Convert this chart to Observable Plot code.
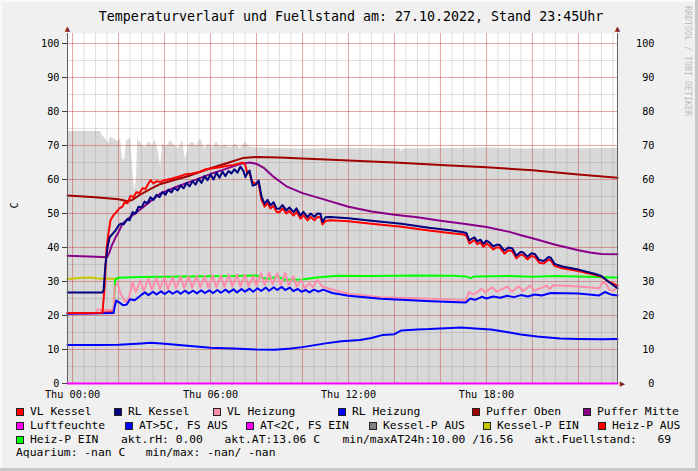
<!DOCTYPE html>
<html><head><meta charset="utf-8">
<script src="https://cdn.jsdelivr.net/npm/d3@7"></script>
<script src="https://cdn.jsdelivr.net/npm/@observablehq/plot@0.6"></script>
<style>
html,body{margin:0;padding:0;background:#f0f0f0;}
#wrap{position:relative;width:698px;height:471px;background:#f0f0f0;overflow:hidden;font-family:"DejaVu Sans Mono",monospace;color:#000;box-shadow:inset -3px -3px 0 #c8c8c8, inset 2px 2px 0 #fafafa;}
#chart{position:absolute;left:0;top:0;}
.t{position:absolute;white-space:pre;line-height:1;}
#title{left:2px;width:698px;top:10.3px;text-align:center;font-size:13.3px;}
#credit{left:684px;top:6px;font-size:8.3px;color:#bdbdbd;writing-mode:vertical-rl;}
.lg{font-size:11.35px;}
.sw{position:absolute;width:8px;height:8px;box-sizing:border-box;border:1px solid #222;}
</style></head>
<body><div id="wrap">
<div id="chart"></div>
<div class="t" id="title"></div>
<div class="t" id="credit">RRDTOOL / TOBI OETIKER</div>
</div>
<script>
// ---- data (time in hours since Thu 00:00, value) ----
const titleText = "Temperaturverlauf und Fuellstand am: 27.10.2022, Stand 23:45Uhr";
const yUnit = "C";
const xTickHours = [0, 6, 12, 18];
const xTickDay = "Thu";
const yTicks = [0, 10, 20, 30, 40, 50, 60, 70, 80, 90, 100];

const fuellstand = [[-0.22,74.1],[1.22,74.1],[1.3,72.8],[1.43,72.0],[1.57,70.5],[1.65,72.5],[1.83,71.8],[1.96,71.2],[2.09,72.0],[2.17,66.0],[2.26,65.6],[2.35,71.5],[2.52,72.0],[2.65,60.0],[2.7,56.8],[2.78,60.0],[2.83,72.0],[3.04,70.0],[3.17,69.3],[3.3,71.0],[3.48,70.0],[3.6,71.5],[3.74,68.0],[3.83,63.5],[3.91,70.5],[4.09,69.5],[4.26,71.5],[4.43,70.0],[4.61,69.0],[4.78,71.5],[4.91,65.8],[5.04,70.0],[5.22,71.0],[5.39,69.8],[5.57,72.0],[5.74,69.0],[5.91,70.5],[6.09,69.2],[6.26,71.0],[6.43,69.5],[6.65,70.2],[6.87,69.2],[7.09,70.5],[7.3,69.0],[7.52,71.0],[7.74,69.3],[7.96,69.3],[9.91,69.0],[11.96,69.2],[14.26,69.0],[14.3,68.0],[14.35,69.0],[18.0,69.3],[19.48,69.0],[23.7,69.1]];

const vlKessel = [[-0.22,20.7],[1.3,20.8],[1.39,28.0],[1.48,40.0],[1.57,44.5],[1.65,48.0],[1.78,49.5],[1.91,50.5],[2.04,51.5],[2.17,52.0],[2.26,53.3],[2.39,53.0],[2.52,55.2],[2.65,54.8],[2.78,56.3],[2.91,56.0],[3.04,57.4],[3.17,57.2],[3.3,58.8],[3.39,59.8],[3.52,58.8],[3.65,59.5],[3.83,59.3],[4.0,59.8],[4.3,60.2],[4.6,60.8],[4.9,61.5],[5.2,61.8],[5.5,62.2],[5.8,63.0],[6.1,63.3],[6.4,63.6],[6.7,64.0],[7.0,64.3],[7.3,64.8],[7.4,65.0],[7.5,64.5],[7.6,62.0],[7.7,61.8],[7.8,59.5],[7.95,58.8],[8.09,58.8],[8.22,54.0],[8.35,52.0],[8.48,53.0],[8.61,51.5],[8.74,52.3],[8.87,50.5],[9.0,50.4],[9.13,51.5],[9.3,50.0],[9.43,50.8],[9.61,49.4],[9.74,50.5],[9.91,48.5],[10.04,49.5],[10.22,48.0],[10.35,49.0],[10.52,48.0],[10.65,49.0],[10.78,48.9],[10.87,46.8],[11.0,47.8],[11.2,48.0],[12.0,47.7],[13.0,47.0],[14.3,46.1],[15.5,45.0],[16.5,44.2],[17.0,43.8],[17.13,43.4],[17.26,41.2],[17.35,41.6],[17.48,42.2],[17.6,41.0],[17.74,41.5],[17.87,40.2],[18.0,41.2],[18.13,40.6],[18.3,39.4],[18.43,40.0],[18.57,40.0],[18.78,38.2],[18.96,39.2],[19.13,38.9],[19.3,36.8],[19.48,37.9],[19.61,37.7],[19.78,36.5],[19.96,37.5],[20.1,37.3],[20.3,35.5],[20.5,35.3],[20.7,36.4],[20.8,36.2],[20.96,34.6],[21.3,33.9],[22.0,33.1],[22.7,32.0],[23.0,31.4],[23.3,30.0],[23.7,28.8]];

const rlKessel = [[-0.22,26.8],[1.3,26.8],[1.35,27.5],[1.43,35.0],[1.52,40.0],[1.61,43.0],[1.74,44.0],[1.87,45.0],[2.0,46.5],[2.09,47.0],[2.22,46.8],[2.39,48.4],[2.48,48.0],[2.61,50.4],[2.74,50.0],[2.87,52.0],[3.0,51.8],[3.13,53.5],[3.26,53.0],[3.39,54.8],[3.52,54.0],[3.65,55.5],[3.78,54.8],[3.91,56.3],[4.04,55.5],[4.17,57.0],[4.3,56.2],[4.43,57.5],[4.57,56.8],[4.7,58.2],[4.83,57.4],[4.96,59.0],[5.09,58.0],[5.22,59.5],[5.35,58.5],[5.48,60.2],[5.61,59.0],[5.74,61.0],[5.87,59.8],[6.0,61.5],[6.13,60.0],[6.26,62.0],[6.39,60.5],[6.52,62.3],[6.65,61.0],[6.78,62.5],[6.91,61.8],[7.04,63.0],[7.17,62.0],[7.3,63.8],[7.43,62.5],[7.52,60.7],[7.61,62.0],[7.7,62.6],[7.83,58.2],[7.96,58.5],[8.09,59.7],[8.22,55.0],[8.35,52.8],[8.48,54.0],[8.61,52.4],[8.74,53.3],[8.87,51.5],[9.0,51.4],[9.13,52.5],[9.3,50.9],[9.43,51.8],[9.61,50.4],[9.74,51.5],[9.91,49.4],[10.04,50.5],[10.22,48.9],[10.35,50.0],[10.52,49.0],[10.65,50.0],[10.78,49.9],[10.87,47.5],[11.0,48.9],[11.2,49.0],[12.0,48.6],[13.0,47.9],[14.3,47.0],[15.5,45.8],[16.5,45.0],[17.0,44.5],[17.13,44.2],[17.26,42.1],[17.35,42.5],[17.48,43.0],[17.6,41.8],[17.74,42.3],[17.87,41.1],[18.0,42.0],[18.13,41.5],[18.3,40.3],[18.43,40.8],[18.57,40.8],[18.78,39.1],[18.96,40.0],[19.13,39.7],[19.3,37.6],[19.48,38.7],[19.61,38.5],[19.78,37.3],[19.96,38.3],[20.1,38.1],[20.3,36.3],[20.5,36.0],[20.7,37.2],[20.8,37.0],[20.96,35.2],[21.3,34.4],[22.0,33.5],[22.7,32.3],[23.0,31.6],[23.3,30.0],[23.7,28.0]];

const vlHeizung = [[-0.22,20.5],[1.0,20.5],[1.1,21.8],[1.3,21.6],[1.78,21.6],[1.83,28.3],[1.96,29.5],[2.09,26.4],[2.3,24.0],[2.45,25.0],[2.6,29.8],[2.75,26.9],[2.95,30.3],[3.1,27.3],[3.3,30.8],[3.45,27.6],[3.65,31.0],[3.8,27.8],[4.0,31.2],[4.15,27.8],[4.35,31.3],[4.5,28.0],[4.7,31.4],[4.85,28.0],[5.05,31.5],[5.2,28.1],[5.4,31.6],[5.55,28.2],[5.75,31.6],[5.9,28.2],[6.1,31.8],[6.25,28.3],[6.45,31.8],[6.6,28.4],[6.8,32.0],[6.95,28.5],[7.15,32.0],[7.3,28.5],[7.5,32.0],[7.65,28.6],[7.85,31.5],[8.0,28.8],[8.2,32.4],[8.35,29.0],[8.55,32.6],[8.7,29.2],[8.9,32.4],[9.05,29.0],[9.25,32.5],[9.4,29.0],[9.6,31.5],[9.75,28.5],[9.95,30.5],[10.1,28.0],[10.3,29.5],[10.45,28.3],[10.65,30.5],[10.85,28.6],[11.2,27.8],[12.0,26.4],[13.4,25.4],[15.6,24.9],[17.1,24.5],[17.25,27.0],[17.4,26.2],[17.55,26.6],[17.8,27.9],[17.95,26.8],[18.25,28.3],[18.45,27.0],[18.9,28.5],[19.1,27.0],[19.4,28.6],[19.6,27.2],[19.9,28.8],[20.1,27.3],[20.6,28.8],[20.75,27.8],[20.9,28.9],[22.0,28.5],[22.9,28.0],[23.05,29.8],[23.2,29.4],[23.35,27.5],[23.55,27.4],[23.7,28.8]];

const rlHeizung = [[-0.22,20.5],[1.78,20.7],[1.83,22.5],[1.9,24.4],[2.04,23.8],[2.2,23.0],[2.35,23.2],[2.5,24.8],[2.7,24.5],[2.96,25.9],[3.15,26.8],[3.3,26.0],[3.5,27.0],[3.65,26.2],[3.85,27.1],[4.0,26.3],[4.2,27.2],[4.35,26.4],[4.55,27.2],[4.7,26.4],[4.9,27.3],[5.05,26.5],[5.25,27.3],[5.4,26.5],[5.6,27.4],[5.75,26.6],[5.95,27.4],[6.1,26.6],[6.3,27.5],[6.45,26.7],[6.65,27.6],[6.8,26.8],[7.0,27.7],[7.15,26.8],[7.35,27.8],[7.5,27.0],[7.7,27.9],[7.85,27.0],[8.05,28.0],[8.2,27.2],[8.4,28.2],[8.55,27.3],[8.75,28.3],[8.9,27.5],[9.1,28.4],[9.25,27.5],[9.45,28.2],[9.6,27.2],[9.8,27.8],[9.95,27.0],[10.15,27.5],[10.3,26.8],[10.5,27.6],[10.7,27.0],[10.9,27.6],[11.3,26.6],[12.0,25.8],[13.4,24.9],[15.6,24.2],[17.1,23.8],[17.3,25.0],[17.5,24.6],[17.8,25.5],[18.0,25.0],[18.3,25.6],[18.6,25.2],[18.9,25.8],[19.2,25.4],[19.5,26.0],[19.8,25.6],[20.1,26.2],[20.4,25.9],[20.8,26.6],[22.0,26.5],[22.9,25.9],[23.15,26.9],[23.4,26.2],[23.7,25.9]];

const pufferOben = [[-0.22,55.3],[1.0,54.8],[2.0,54.2],[2.4,53.6],[2.6,54.0],[3.0,55.8],[3.5,57.6],[3.83,58.7],[4.5,60.0],[5.13,61.2],[6.0,63.3],[6.7,64.8],[7.4,66.3],[8.0,66.6],[9.0,66.5],[10.0,66.2],[12.0,65.6],[14.0,65.0],[16.0,64.3],[18.0,63.6],[20.0,62.7],[22.0,61.5],[23.7,60.5]];

const pufferMitte = [[-0.22,37.6],[1.0,37.3],[1.5,37.1],[1.6,38.5],[1.7,40.5],[1.87,43.0],[2.0,44.5],[2.17,47.0],[2.4,48.4],[3.0,51.5],[3.8,55.8],[4.5,57.8],[5.3,59.8],[6.0,61.6],[6.7,63.2],[7.3,64.6],[7.7,65.0],[8.0,64.6],[8.3,63.5],[8.7,61.0],[9.3,58.0],[10.0,56.0],[11.0,54.0],[12.0,52.0],[13.0,50.6],[14.0,49.6],[15.0,48.9],[16.0,47.9],[17.0,47.0],[18.0,46.0],[19.0,44.6],[19.5,43.6],[20.0,42.7],[21.0,40.8],[22.0,39.2],[22.5,38.5],[23.0,38.1],[23.7,38.0]];

const aussenTemp = [[-0.22,11.3],[1.0,11.3],[2.0,11.4],[3.0,11.8],[3.4,12.0],[4.0,11.7],[5.0,11.1],[6.0,10.5],[7.0,10.3],[8.0,10.0],[8.8,9.9],[9.5,10.3],[10.0,10.7],[11.0,11.8],[11.7,12.4],[12.5,12.8],[13.0,13.4],[13.5,14.3],[14.0,14.5],[14.3,15.6],[15.0,15.9],[15.5,16.0],[16.0,16.2],[16.9,16.5],[17.5,16.2],[18.2,15.9],[19.0,15.0],[19.5,14.4],[20.2,13.8],[21.2,13.2],[22.0,13.1],[23.0,13.0],[23.7,13.1]];

const kesselPEin = [[-0.22,30.7],[0.4,31.1],[0.8,31.2],[1.2,30.8],[1.96,30.8]];
const heizPAus = [[-0.22,20.7],[1.2,20.8],[1.8,21.0]];
const heizPEin = [[1.78,20.8],[1.85,30.3],[1.96,31.1],[3.0,31.3],[5.0,31.5],[7.0,31.6],[8.0,31.8],[8.3,31.0],[8.6,30.8],[8.9,31.6],[9.2,30.5],[10.0,30.6],[10.6,31.2],[11.5,31.7],[13.0,31.6],[15.0,31.8],[16.5,31.7],[17.1,31.5],[17.3,31.0],[17.5,31.5],[19.0,31.6],[20.0,31.4],[21.0,31.6],[23.7,31.2]];
const luftfeuchte = [[-0.22,0],[23.7,0]];

const legendLabels = [
  ["VL Kessel","RL Kessel","VL Heizung","RL Heizung","Puffer Oben","Puffer Mitte"],
  ["Luftfeuchte","AT>5C, FS AUS","AT<2C, FS EIN","Kessel-P AUS","Kessel-P EIN","Heiz-P AUS"],
  ["Heiz-P EIN"]
];
const legendColors = [
  ["#ff0000","#000080","#ff8cab","#0000ff","#a00000","#880088"],
  ["#ff00ff","#0000ff","#ff00ff","#808080","#c8c800","#ff0000"],
  ["#00ff00"]
];
const infoTexts = ["akt.rH: 0.00","akt.AT:13.06 C","min/maxAT24h:10.00 /16.56","akt.Fuellstand:   69"];
const aquariumText = "Aquarium: -nan C   min/max: -nan/ -nan";

// ---- layout ----
const X0 = -0.22, X1 = 23.7;
const gridMinorX = d3.range(0, 24, 0.5);
const gridMajorX = d3.range(0, 24, 2);
const gridMinorY = d3.range(5, 101, 5);
const gridMajorY = d3.range(10, 101, 10);
const px = d => d[0], py = d => d[1];
const ln = (data, color) => Plot.line(data, {x: px, y: py, stroke: color, strokeWidth: 2, strokeLinejoin: "round"});

const chart = Plot.plot({
  width: 698, height: 404,
  marginLeft: 67, marginRight: 81, marginTop: 33, marginBottom: 21,
  style: {background: "transparent", fontFamily: "DejaVu Sans Mono", fontSize: "10.2px", color: "#000", overflow: "visible"},
  x: {domain: [X0, X1]},
  y: {domain: [0, 350 / 3.4]},
  marks: [
    Plot.frame({fill: "#fff", stroke: "none"}),
    Plot.areaY(fuellstand, {x: px, y: py, fill: "#d8d8d8"}),
    Plot.ruleX(gridMinorX, {stroke: "#808080", strokeOpacity: 0.25}),
    Plot.ruleY(gridMinorY, {stroke: "#808080", strokeOpacity: 0.25}),
    Plot.ruleX(gridMajorX, {stroke: "#ff0000", strokeOpacity: 0.25}),
    Plot.ruleY(gridMajorY, {stroke: "#ff0000", strokeOpacity: 0.25}),
    ln(kesselPEin, "#c8c800"),
    ln(heizPAus, "#ff0000"),
    ln(heizPEin, "#00ff00"),
    ln(aussenTemp, "#0000ff"),
    ln(vlHeizung, "#ff8cab"),
    ln(rlHeizung, "#0000ff"),
    ln(pufferOben, "#a00000"),
    ln(pufferMitte, "#880088"),
    ln(vlKessel, "#ff0000"),
    ln(rlKessel, "#000080"),
    Plot.ruleX([X0, X1], {stroke: "#606060", strokeWidth: 1}),
    ln(luftfeuchte, "#ff00ff"),
    Plot.axisY({anchor: "left", ticks: yTicks, tickSize: 5, tickPadding: 3, label: null, stroke: "#404040"}),
    Plot.axisY({anchor: "right", ticks: yTicks, tickSize: 0, tickPadding: 37, textAnchor: "end", label: null}),
    Plot.axisX({ticks: xTickHours, tickSize: 0, tickPadding: 7, label: null,
      tickFormat: h => `${xTickDay} ${String(h).padStart(2, "0")}:00`}),
    Plot.text([yUnit], {frameAnchor: "left", dx: -53, rotate: -90, fontSize: 10.2}),
    Plot.text(["▲"], {frameAnchor: "top-left", dy: -3, textAnchor: "middle", lineAnchor: "bottom", fill: "#8b2020", fontSize: 7, fontFamily: "DejaVu Sans"}),
    Plot.text(["▲"], {frameAnchor: "top-right", dy: -3, textAnchor: "middle", lineAnchor: "bottom", fill: "#8b2020", fontSize: 7, fontFamily: "DejaVu Sans"}),
    Plot.text(["▶"], {frameAnchor: "bottom-right", dx: 5, textAnchor: "middle", lineAnchor: "middle", fill: "#8b2020", fontSize: 7, fontFamily: "DejaVu Sans"})
  ]
});
document.getElementById("chart").append(chart);
document.getElementById("title").textContent = titleText;

// ---- legend ----
const wrap = document.getElementById("wrap");
const rowTop = [406.1, 419.6, 433.6, 447.1];
const swatchX = [[16,114,213,338,472,583],[16,125,246,369,483,598],[16]];
const infoX = [121, 224.5, 342.5, 534.5];
function addText(str, x, top) {
  const d = document.createElement("div");
  d.className = "t lg"; d.textContent = str;
  d.style.left = x + "px"; d.style.top = top + "px";
  wrap.append(d);
}
legendLabels.forEach((row, r) => row.forEach((lab, i) => {
  const s = document.createElement("div");
  s.className = "sw";
  s.style.left = swatchX[r][i] + "px";
  s.style.top = (rowTop[r] + 2.2) + "px";
  s.style.background = legendColors[r][i];
  wrap.append(s);
  addText(lab, swatchX[r][i] + 14, rowTop[r]);
}));
infoTexts.forEach((t, i) => addText(t, infoX[i], rowTop[2]));
addText(aquariumText, 16, rowTop[3]);
</script>
</body></html>
